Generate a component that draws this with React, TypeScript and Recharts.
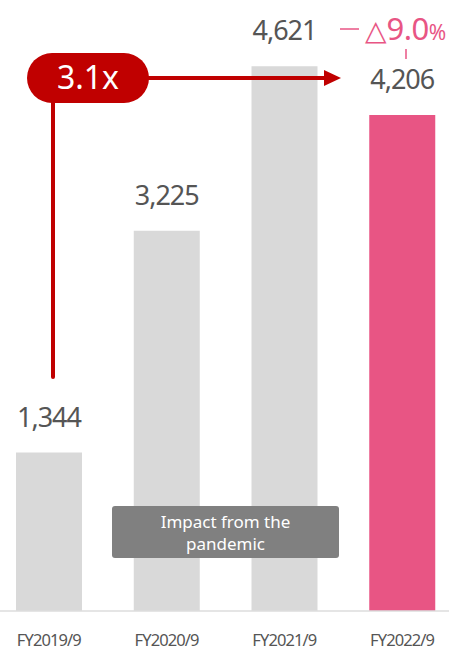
import React from "react";
import { BarChart, Bar, XAxis, YAxis, LabelList, Cell } from "recharts";

const CATEGORIES = ["FY2019/9", "FY2020/9", "FY2021/9", "FY2022/9"];
const VALUES = [1344, 3225, 4621, 4206];
const HIGHLIGHT = "FY2022/9";

const FONT = "'Noto Sans', 'Open Sans', sans-serif";
const GRAY_BAR = "#d9d9d9";
const PINK = "#e85584";
const RED = "#c00000";
const TEXT = "#555555";

const data = CATEGORIES.map((c, i) => ({ name: c, value: VALUES[i] }));

const fmt = (v: number) => v.toLocaleString("en-US");

const AxisTick = ({ x, y, payload }: any) => (
  <text x={x} y={y} dy={35} textAnchor="middle" fill={TEXT} fontSize={16.5} letterSpacing={-0.9} fontFamily={FONT}>
    {payload.value}
  </text>
);

export default function App() {
  return (
    <div style={{ position: "absolute", left: 0, top: 0, width: 449, height: 650, overflow: "hidden", background: "#fff", fontFamily: FONT }}>
      <div style={{ position: "absolute", left: -10, top: 0 }}>
        <BarChart width={471} height={650} data={data} margin={{ top: 0, right: 0, bottom: 0, left: 0 }} barCategoryGap={0}>
          <XAxis
            dataKey="name"
            height={39}
            tickLine={false}
            tickSize={0}
            tickMargin={0}
            axisLine={{ stroke: "#dddddd", strokeWidth: 1.5 }}
            tick={<AxisTick />}
            interval={0}
          />
          <YAxis hide domain={[0, 5182]} />
          <Bar dataKey="value" barSize={66} isAnimationActive={false}>
            {data.map((d) => (
              <Cell key={d.name} fill={d.name === HIGHLIGHT ? PINK : GRAY_BAR} />
            ))}
            <LabelList
              dataKey="value"
              position="top"
              offset={26}
              formatter={(v: any) => fmt(Number(v))}
              style={{ fill: TEXT, fontSize: 27, letterSpacing: -1, fontFamily: FONT }}
            />
          </Bar>
        </BarChart>
      </div>
      {/* annotations */}
      <svg width={449} height={650} style={{ position: "absolute", left: 0, top: 0, pointerEvents: "none" }}>
        <line x1={53} y1={100} x2={53} y2={377} stroke={RED} strokeWidth={4} strokeLinecap="round" />
        <line x1={145} y1={78} x2={326} y2={78} stroke={RED} strokeWidth={4} />
        <polygon points="324,70 341,78 324,86" fill={RED} />
        <rect x={27} y={53} width={122} height={50} rx={25} fill={RED} />
        <text x={88} y={89} textAnchor="middle" fill="#fff" fontSize={32} fontFamily={FONT}>3.1x</text>

        <line x1={340} y1={29} x2={359} y2={29} stroke={PINK} strokeWidth={1.5} />
        <text x={365} y={40} fill={PINK} fontFamily={FONT}>
          <tspan fontSize={28} fontFamily="'DejaVu Sans', sans-serif">△</tspan>
          <tspan fontSize={31} letterSpacing={-0.5}>9.0</tspan>
          <tspan fontSize={21}>%</tspan>
        </text>
        <line x1={406} y1={49} x2={406} y2={59} stroke={PINK} strokeWidth={1.5} />

        <rect x={112} y={506} width={227} height={52} rx={3} fill="#808080" />
        <text x={225.5} y={528} textAnchor="middle" fill="#fff" fontSize={17} fontFamily={FONT}>Impact from the</text>
        <text x={225.5} y={550} textAnchor="middle" fill="#fff" fontSize={17} fontFamily={FONT}>pandemic</text>
      </svg>
    </div>
  );
}
